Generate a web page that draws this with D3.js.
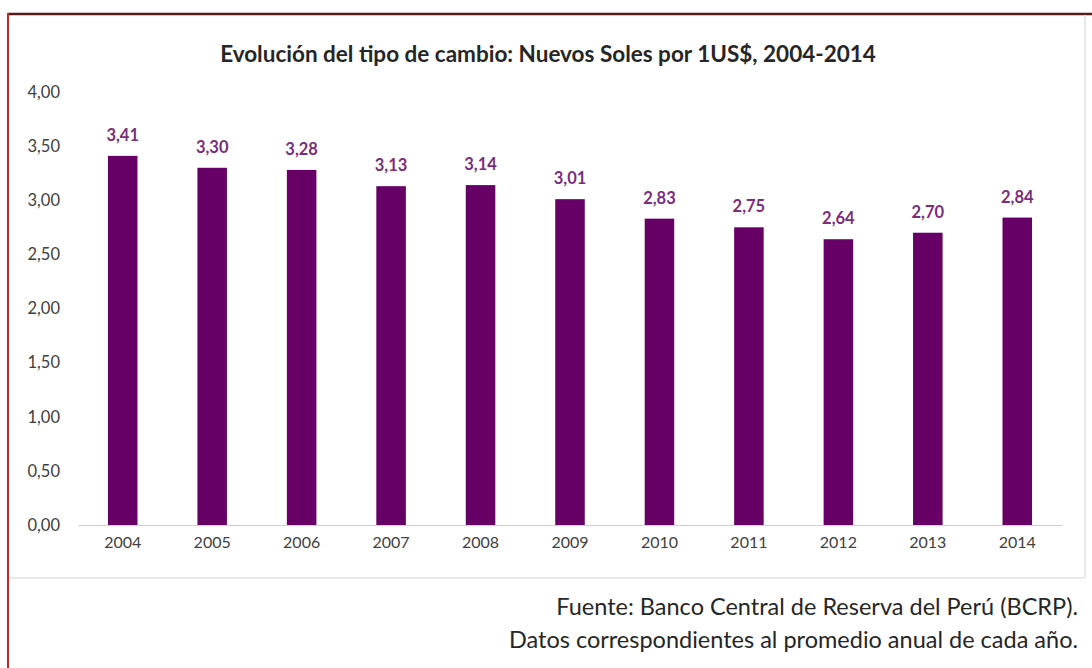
<!DOCTYPE html>
<html>
<head>
<meta charset="utf-8">
<script src="https://cdn.jsdelivr.net/npm/d3@7"></script>
<style>
    body { margin: 0; background: #fff; }
    svg { display: block; font-family: Lato, "Open Sans", sans-serif; }
</style>
</head>
<body>
<svg id="chart"></svg>
<script>
// data
const years = ['2004', '2005', '2006', '2007', '2008', '2009', '2010', '2011', '2012', '2013', '2014'];
const rates = [3.41, 3.30, 3.28, 3.13, 3.14, 3.01, 2.83, 2.75, 2.64, 2.70, 2.84];
const yTicks = [0, 0.5, 1, 1.5, 2, 2.5, 3, 3.5, 4];

const title = 'Evolución del tipo de cambio: Nuevos Soles por 1US$, 2004-2014';
const sourceLines = [
    'Fuente: Banco Central de Reserva del Perú (BCRP).',
    'Datos correspondientes al promedio anual de cada año.'
];

const W = 1092, H = 668;
const margin = {top: 92, right: 30, bottom: 143, left: 78};
const font = 'Lato, "Open Sans", sans-serif';

const svg = d3.select('#chart')
    .attr('width', W)
    .attr('height', H);

const fmt = v => d3.format('.2f')(v).replace('.', ',');

// frames
svg.append('line')
    .attr('x1', 8).attr('x2', W).attr('y1', 14).attr('y2', 14)
    .attr('stroke', '#5a1a1a').attr('stroke-width', 2.5);
svg.append('line')
    .attr('x1', 8).attr('x2', 8).attr('y1', 13).attr('y2', H)
    .attr('stroke', '#c0282d').attr('stroke-width', 2);
svg.append('line')
    .attr('x1', 9).attr('x2', 1085).attr('y1', 578).attr('y2', 578)
    .attr('stroke', '#e2e2e2').attr('stroke-width', 1.5);
svg.append('line')
    .attr('x1', 1085).attr('x2', 1085).attr('y1', 15).attr('y2', 578)
    .attr('stroke', '#e2e2e2').attr('stroke-width', 1.5);

const x = d3.scaleBand()
    .domain(years)
    .range([margin.left, W - margin.right])
    .paddingInner(0.67)
    .paddingOuter(0.335);

const y = d3.scaleLinear()
    .domain([0, 4])
    .range([H - margin.bottom, margin.top]);

// y axis labels (no line)
const yAxis = svg.append('g')
    .attr('transform', `translate(${margin.left - 18},0)`)
    .call(d3.axisLeft(y).tickValues(yTicks).tickFormat(fmt).tickSize(0).tickPadding(0))
    .attr('font-family', font)
    .attr('font-size', 16.5);
yAxis.select('.domain').remove();
yAxis.selectAll('text')
    .attr('fill', '#404040');

// x axis
const xAxis = svg.append('g')
    .attr('transform', `translate(0,${y(0)})`)
    .call(d3.axisBottom(x).tickSize(0).tickPadding(12))
    .attr('font-family', font)
    .attr('font-size', 16);
xAxis.select('.domain')
    .attr('stroke', '#d0d0d0');
xAxis.selectAll('text')
    .attr('fill', '#404040');

// bars
svg.append('g')
    .selectAll('rect')
    .data(rates)
    .join('rect')
    .attr('x', (d, i) => x(years[i]))
    .attr('y', d => y(d))
    .attr('width', x.bandwidth())
    .attr('height', d => y(0) - y(d))
    .attr('fill', '#660066');

// value labels
svg.append('g')
    .selectAll('text')
    .data(rates)
    .join('text')
    .attr('x', (d, i) => x(years[i]) + x.bandwidth() / 2)
    .attr('y', d => y(d) - 15)
    .attr('text-anchor', 'middle')
    .attr('fill', '#7b2d7b')
    .style('font-size', '16.5px')
    .style('font-weight', 'bold')
    .text(fmt);

// title
svg.append('text')
    .attr('x', 548)
    .attr('y', 62)
    .attr('text-anchor', 'middle')
    .attr('fill', '#262626')
    .style('font-size', '22.5px')
    .style('font-weight', 'bold')
    .text(title);

// source
svg.append('g')
    .selectAll('text')
    .data(sourceLines)
    .join('text')
    .attr('x', 1078)
    .attr('y', (d, i) => 615 + i * 33)
    .attr('text-anchor', 'end')
    .attr('fill', '#262626')
    .style('font-size', '23.5px')
    .text(d => d);
</script>
</body>
</html>
